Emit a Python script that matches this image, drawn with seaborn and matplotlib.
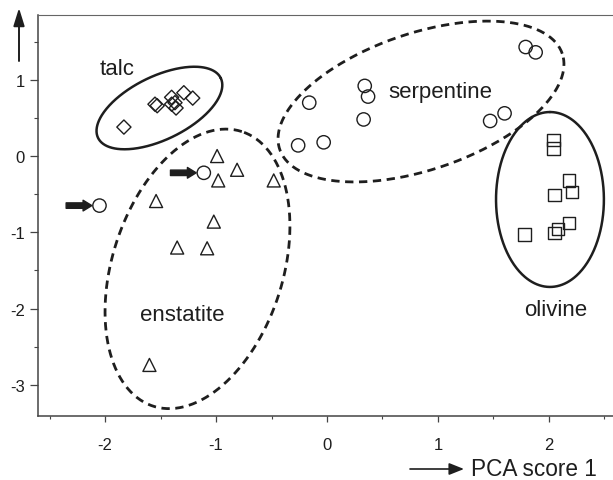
import numpy as np
import pandas as pd
import matplotlib
matplotlib.use("Agg")
import matplotlib.pyplot as plt
import seaborn as sns

# PCA scores per mineral group (score 1, score 2)
talc_x = [-1.83, -1.55, -1.53, -1.40, -1.37, -1.36, -1.40, -1.29, -1.21]
talc_y = [0.38, 0.68, 0.66, 0.77, 0.70, 0.63, 0.68, 0.83, 0.76]

serp_x = [1.79, 1.88, 0.34, 0.37, 0.33, 1.47, 1.60, -0.03, -0.16, -0.26, -1.11, -2.05]
serp_y = [1.43, 1.36, 0.92, 0.78, 0.48, 0.46, 0.56, 0.18, 0.70, 0.14, -0.22, -0.65]

enst_x = [-0.99, -0.81, -0.98, -0.48, -1.54, -1.02, -1.35, -1.08, -1.60]
enst_y = [0.00, -0.18, -0.32, -0.32, -0.59, -0.86, -1.20, -1.21, -2.74]

oliv_x = [2.04, 2.04, 2.18, 2.21, 2.05, 2.18, 2.08, 2.05, 1.78]
oliv_y = [0.21, 0.10, -0.32, -0.47, -0.51, -0.88, -0.96, -1.01, -1.03]

# group outlines: name, centre x, centre y, semi-major, semi-minor (x units), angle (deg), dashed
outlines = [
    ("talc", -1.51, 0.63, 0.615, 0.285, 26.0, False),
    ("enstatite", -1.167, -1.48, 1.30, 0.768, 72.1, True),
    ("serpentine", 0.847, 0.715, 1.344, 0.615, 18.7, True),
    ("olivine", 2.009, -0.57, 0.788, 0.486, 90.0, False),
]

# group name labels (left, baseline)
labels = [
    ("talc", -2.045, 1.075),
    ("serpentine", 0.55, 0.78),
    ("enstatite", -1.685, -2.157),
    ("olivine", 1.775, -2.09),
]

# serpentine samples that fall outside their group
flagged = [(-1.11, -0.22), (-2.05, -0.65)]

df = pd.concat([
    pd.DataFrame({"pc1": talc_x, "pc2": talc_y, "mineral": "talc"}),
    pd.DataFrame({"pc1": serp_x, "pc2": serp_y, "mineral": "serpentine"}),
    pd.DataFrame({"pc1": enst_x, "pc2": enst_y, "mineral": "enstatite"}),
    pd.DataFrame({"pc1": oliv_x, "pc2": oliv_y, "mineral": "olivine"}),
], ignore_index=True)

sns.set_style("white")
plt.rcParams["font.family"] = ["Liberation Sans", "DejaVu Sans"]
plt.rcParams["axes.unicode_minus"] = False

ink = "#1e1e1e"
fig = plt.figure(figsize=(6.13, 4.81), dpi=100)
ax = fig.add_axes([38 / 613, 64 / 481, 575 / 613, 401 / 481])

xlim = (-2.604, 2.577)
ylim = (-3.41, 1.85)
ax.set_xlim(*xlim)
ax.set_ylim(*ylim)

marker_spec = {
    "talc": ("D", 52),
    "serpentine": ("o", 92),
    "enstatite": ("^", 88),
    "olivine": ("s", 78),
}
for name, (mk, size) in marker_spec.items():
    sub = df[df["mineral"] == name]
    sns.scatterplot(data=sub, x="pc1", y="pc2", marker=mk, s=size,
                    facecolor="none", edgecolor=ink, linewidth=1.0,
                    ax=ax, legend=False, zorder=3)

# outlines drawn so they look like true ellipses on screen
ax_w = 575.0
ax_h = 401.0
k = (ax_h / (ylim[1] - ylim[0])) / (ax_w / (xlim[1] - xlim[0]))
t = np.linspace(0, 2 * np.pi, 400)
for name, cx, cy, a, b, ang, dashed in outlines:
    th = np.deg2rad(ang)
    u = a * np.cos(t) * np.cos(th) - b * np.sin(t) * np.sin(th)
    v = a * np.cos(t) * np.sin(th) + b * np.sin(t) * np.cos(th)
    if dashed:
        ax.plot(cx + u, cy + v / k, color=ink, lw=2.0, dashes=(3.0, 2.0), zorder=2)
    else:
        ax.plot(cx + u, cy + v / k, color=ink, lw=1.8, zorder=2)

for text, lx, ly in labels:
    ax.text(lx, ly, text, fontsize=16, color=ink, ha="left", va="baseline")

for fx, fy in flagged:
    ax.annotate("", xy=(fx, fy), xytext=(-24, 0), textcoords="offset points",
                arrowprops=dict(arrowstyle="simple,head_width=0.55,head_length=0.45,tail_width=0.28",
                                mutation_scale=14, color=ink, shrinkA=0, shrinkB=5.5))

# axes styling
ax.set_xticks([-2, -1, 0, 1, 2])
ax.set_yticks([-3, -2, -1, 0, 1])
ax.set_xticks(np.arange(-2.5, 2.6, 1.0), minor=True)
ax.set_yticks(np.arange(-2.5, 1.6, 1.0), minor=True)
ax.set_xticklabels(["-2", "-1", "0", "1", "2"])
ax.set_yticklabels(["-3", "-2", "-1", "0", "1"])
ax.tick_params(axis="both", which="both", direction="out", color="#444444",
               labelcolor=ink, labelsize=12)
ax.tick_params(axis="y", which="major", length=5.8, width=0.9, pad=3.5, left=True)
ax.tick_params(axis="y", which="minor", length=3.0, width=0.8, left=True)
ax.tick_params(axis="x", which="major", length=4.5, width=0.9, pad=10.5, bottom=True)
ax.tick_params(axis="x", which="minor", length=2.5, width=0.8, bottom=True)
ax.set_xlabel("")
ax.set_ylabel("")

for side in ("left", "bottom"):
    ax.spines[side].set_color("#444444")
    ax.spines[side].set_linewidth(1.1)
ax.spines["top"].set_color("#666666")
ax.spines["top"].set_linewidth(0.8)
ax.spines["top"].set_linestyle((0, (1, 1)))
ax.spines["right"].set_visible(False)

# axis direction arrows and the score-1 caption
ax.annotate("", xy=(19, 472), xycoords="figure pixels", xytext=(19, 419),
            textcoords="figure pixels",
            arrowprops=dict(arrowstyle="-|>,head_width=0.28,head_length=0.9",
                            mutation_scale=12, color=ink, lw=1.4, shrinkA=0, shrinkB=0))
ax.annotate("", xy=(464, 11), xycoords="figure pixels", xytext=(410, 11),
            textcoords="figure pixels",
            arrowprops=dict(arrowstyle="-|>,head_width=0.3,head_length=0.75",
                            mutation_scale=12, color=ink, lw=1.2, shrinkA=0, shrinkB=0))
fig.text(471 / 613, 5.0 / 481, "PCA score 1", fontsize=16.3, color=ink,
         ha="left", va="baseline")

fig.savefig("out.png", dpi=100)
